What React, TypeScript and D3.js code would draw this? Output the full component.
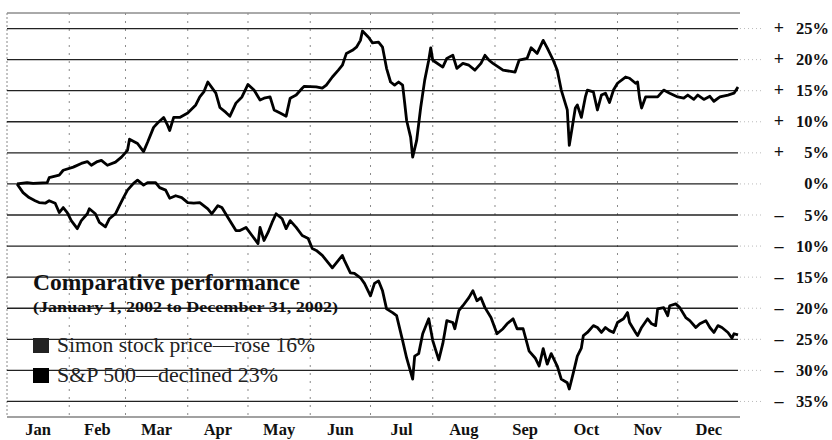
import * as React from "react";
import * as d3 from "d3";

const width = 832;
const height = 440;

const yearStart = new Date(2002, 0, 1);
const yearEnd = new Date(2003, 0, 1);

// [day of year, % change since Jan 1]
const simon: [number, number][] = [
  [5, 0], [10, 0.2], [13, 0.1], [20, 0.2], [21, 1.0], [26, 1.4], [28, 2.2], [33, 2.7],
  [37, 3.3], [40, 3.6], [42, 3.0], [45, 3.6], [47, 3.8], [50, 3.0], [54, 3.5], [57, 4.3],
  [60, 5.4], [61, 7.2], [65, 6.5], [68, 5.2], [70, 6.7], [73, 9.1], [75, 9.8], [78, 10.7],
  [80, 9.4], [81, 8.6], [83, 10.7], [86, 10.7], [90, 11.4], [94, 12.7], [96, 14.0], [98, 14.8],
  [100, 16.4], [104, 14.6], [106, 12.3], [109, 11.5], [111, 10.9], [114, 13.0], [117, 14.0],
  [120, 16.0], [123, 15.1], [126, 13.5], [128, 13.8], [131, 14.0], [133, 11.9], [136, 11.4],
  [139, 10.9], [141, 13.8], [144, 14.3], [147, 15.4], [148, 15.7], [154, 15.6], [157, 15.4],
  [159, 15.9], [162, 17.2], [165, 18.3], [167, 19.1], [169, 21.0], [172, 21.5], [174, 22.0],
  [176, 23.1], [177, 24.6], [180, 23.6], [182, 22.7], [185, 22.8], [187, 22.0], [189, 18.6],
  [191, 16.4], [193, 15.9], [195, 16.4], [197, 15.9], [198, 13.1], [199, 10.2], [201, 7.5],
  [202, 4.3], [204, 7.0], [206, 12.3], [208, 16.7], [210, 19.9], [211, 21.9], [212, 19.9],
  [217, 18.8], [219, 20.2], [222, 20.7], [224, 18.6], [227, 19.4], [230, 19.1], [233, 18.3],
  [236, 19.4], [238, 20.7], [240, 19.9], [242, 19.4], [247, 18.3], [253, 18.0], [255, 19.9],
  [259, 20.2], [261, 21.9], [264, 21.0], [267, 23.1], [269, 21.9], [272, 19.9], [274, 18.3],
  [276, 15.1], [279, 11.9], [280, 6.2], [282, 10.2], [283, 12.2], [284, 12.7], [286, 10.7],
  [288, 14.0], [289, 15.1], [292, 14.8], [294, 11.9], [296, 14.3], [298, 14.6], [300, 13.1],
  [302, 15.1], [304, 16.2], [308, 17.2], [310, 17.0], [313, 16.2], [314, 16.4], [315, 13.8],
  [316, 12.2], [318, 14.0], [324, 14.0], [327, 15.1], [330, 14.6], [334, 14.0], [337, 13.8],
  [339, 14.3], [342, 13.6], [344, 14.3], [347, 13.6], [350, 14.1], [352, 13.3], [355, 14.0],
  [359, 14.3], [362, 14.6], [364, 15.6],
];

const sp500: [number, number][] = [
  [5, 0], [8, -1.4], [11, -2.2], [14, -2.7], [16, -3.0], [19, -3.1], [21, -2.7], [24, -3.1],
  [26, -4.6], [28, -3.8], [30, -4.6], [32, -5.9], [35, -7.2], [37, -5.9], [40, -4.8], [41, -4.0],
  [44, -4.8], [46, -6.2], [49, -6.9], [51, -5.6], [54, -4.8], [56, -3.5], [58, -2.2], [60, -1.0],
  [63, 0.1], [65, 0.6], [68, -0.2], [70, 0.2], [74, 0.2], [76, -0.6], [79, -1.0], [81, -2.3],
  [84, -1.9], [87, -2.2], [90, -3.0], [93, -3.1], [96, -3.0], [100, -4.0], [102, -4.8],
  [105, -3.5], [107, -3.8], [110, -5.4], [114, -7.5], [116, -7.5], [119, -7.0], [122, -8.3],
  [125, -9.6], [126, -7.0], [128, -9.1], [130, -7.8], [132, -6.2], [134, -4.8], [137, -5.6],
  [139, -7.2], [141, -5.9], [144, -7.0], [147, -8.3], [150, -8.8], [152, -10.4], [154, -10.7],
  [157, -11.5], [159, -12.3], [162, -13.5], [164, -12.7], [167, -11.5], [168, -12.3],
  [171, -14.3], [173, -14.4], [176, -15.1], [178, -16.0], [181, -18.0], [183, -16.0],
  [185, -15.6], [187, -17.2], [189, -20.1], [192, -20.7], [194, -21.2], [197, -25.2],
  [199, -28.0], [202, -31.4], [203, -27.7], [205, -27.3], [207, -24.1], [210, -21.7],
  [212, -25.2], [215, -28.3], [217, -25.7], [219, -22.0], [222, -22.3], [223, -23.3],
  [225, -20.4], [227, -19.6], [230, -18.3], [232, -17.2], [234, -18.8], [236, -18.3],
  [238, -19.9], [241, -21.5], [244, -24.1], [247, -23.3], [249, -22.5], [252, -21.7],
  [254, -23.3], [257, -23.3], [260, -26.9], [263, -28.0], [265, -29.3], [267, -26.5],
  [269, -29.0], [271, -27.3], [274, -29.3], [276, -31.4], [279, -32.0], [280, -33.0],
  [282, -30.4], [284, -27.7], [286, -26.4], [287, -24.4], [289, -23.9], [292, -22.8],
  [294, -23.1], [296, -23.9], [298, -23.1], [300, -23.6], [302, -23.9], [304, -22.3],
  [307, -21.7], [309, -20.7], [310, -22.3], [313, -23.9], [314, -24.4], [316, -23.1],
  [319, -21.7], [321, -22.5], [323, -22.8], [324, -20.1], [327, -19.9], [329, -21.2],
  [330, -19.6], [333, -19.3], [335, -19.9], [338, -21.5], [340, -22.0], [343, -23.1],
  [345, -22.5], [348, -22.0], [350, -23.1], [352, -23.9], [354, -22.8], [356, -23.1],
  [359, -23.9], [361, -24.8], [362, -24.1], [364, -24.3],
];

const yTicks = [25, 20, 15, 10, 5, 0, -5, -10, -15, -20, -25, -30, -35];
const monthLabels = ["Jan", "Feb", "Mar", "Apr", "May", "Jun", "Jul", "Aug", "Sep", "Oct", "Nov", "Dec"];

const title = "Comparative performance";
const subtitle = "(January 1, 2002 to December 31, 2002)";
const legendItems = ["Simon stock price\u2014rose 16%", "S&P 500\u2014declined 23%"];
const legendWidths = [258, 221]; // measured text widths in the original

const serif = "'Liberation Serif', 'Times New Roman', serif";

export default function App() {
  const left = 7;
  const right = 740;
  const top = 13;
  const bottom = 417;

  const x = d3.scaleTime().domain([yearStart, yearEnd]).range([left, right]);
  const y = d3.scaleLinear().domain([-37.5, 27.5]).range([bottom, top]);

  const line = d3
    .line<[number, number]>()
    .x((d) => x(d3.timeDay.offset(yearStart, d[0])))
    .y((d) => y(d[1]));

  const months = d3.timeMonth.range(yearStart, yearEnd);

  return (
    <svg
      width={width}
      height={height}
      style={{ position: "absolute", left: 0, top: 0, background: "#fff" }}
      fontFamily={serif}
    >
      {/* frame */}
      <line x1={left} x2={right} y1={top} y2={top} stroke="#555" strokeWidth={1} />
      <line x1={left} x2={right} y1={bottom} y2={bottom} stroke="#444" strokeWidth={1.2} />
      <line x1={left} x2={left} y1={top} y2={bottom} stroke="#888" strokeWidth={1} strokeDasharray="2,2" />

      {/* vertical month grid */}
      {months.slice(1).map((m, i) => (
        <line
          key={i}
          x1={x(m)}
          x2={x(m)}
          y1={top}
          y2={bottom}
          stroke="#8a8a8a"
          strokeWidth={1}
          strokeDasharray="2,6"
        />
      ))}

      {/* horizontal grid + right labels */}
      {yTicks.map((t) => {
        const yy = y(t);
        const sign = t > 0 ? "+" : t < 0 ? "\u2013" : "";
        return (
          <g key={t}>
            <line x1={left} x2={738} y1={yy} y2={yy} stroke="#222" strokeWidth={1.3} />
            <line x1={740} x2={762} y1={yy} y2={yy} stroke="#bbb" strokeWidth={1} strokeDasharray="1,3" />
            <text x={779} y={yy + 5.5} textAnchor="middle" fontSize={18} fontWeight="bold" fill="#111">
              {sign}
            </text>
            <text x={829} y={yy + 5.5} textAnchor="end" fontSize={16.5} fontWeight="bold" fill="#111">
              {Math.abs(t) + "%"}
            </text>
          </g>
        );
      })}

      {/* month labels */}
      {months.map((m, i) => {
        const mid = new Date((m.getTime() + d3.timeMonth.offset(m, 1).getTime()) / 2);
        return (
          <text key={i} x={x(mid)} y={435} textAnchor="middle" fontSize={16.5} fontWeight="bold" fill="#111">
            {monthLabels[i]}
          </text>
        );
      })}

      {/* series */}
      <path d={line(simon) || ""} fill="none" stroke="#000" strokeWidth={2.8} strokeLinejoin="round" />
      <path d={line(sp500) || ""} fill="none" stroke="#000" strokeWidth={2.8} strokeLinejoin="round" />

      {/* legend */}
      <text x={33} y={290} fontSize={23} fontWeight="bold" fill="#111" textLength={267} lengthAdjust="spacingAndGlyphs">
        {title}
      </text>
      <text x={33} y={312} fontSize={15} fontWeight="bold" fill="#111" textLength={305} lengthAdjust="spacingAndGlyphs">
        {subtitle}
      </text>
      {legendItems.map((label, i) => (
        <g key={label} transform={`translate(33, ${338 + i * 30})`}>
          <rect x={0} y={0} width={16} height={15} fill={i === 0 ? "#222" : "#000"} />
          <text
            x={24}
            y={14}
            fontSize={20}
            fill="#222"
            textLength={legendWidths[i]}
            lengthAdjust="spacingAndGlyphs"
          >
            {label}
          </text>
        </g>
      ))}
    </svg>
  );
}
